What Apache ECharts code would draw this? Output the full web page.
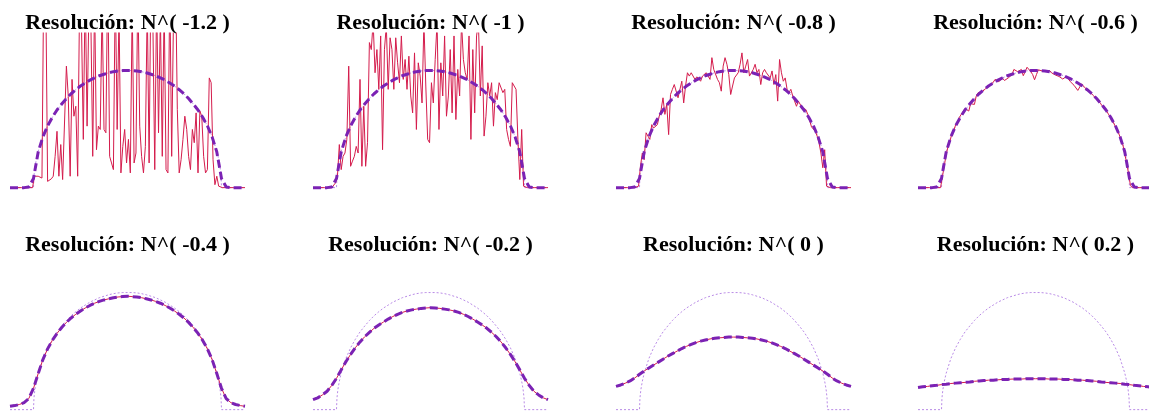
<!DOCTYPE html>
<html>
<head>
<meta charset="utf-8">
<script src="https://cdn.jsdelivr.net/npm/echarts@6/dist/echarts.min.js"></script>
<style>
    html, body { margin: 0; padding: 0; background: #fff; }
    #graf { width: 1149px; height: 411px; }
</style>
</head>
<body>
<div id="graf"></div>
<script>
// exponente de la resolucion de cada panel
var exponentes = ['-1.2', '-1', '-0.8', '-0.6', '-0.4', '-0.2', '0', '0.2'];

// rejillas de x: estimaciones ruidosas (paso 0.04) y curvas suaves (paso 0.1)
var xRuido = [];
for (var i = 0; i <= 125; i++) xRuido.push(+(-2.5 + i * 0.04).toFixed(2));
var xSuave = [];
for (var j = 0; j <= 50; j++) xSuave.push(+(-2.5 + j * 0.1).toFixed(1));

// semicirculo teorico (linea punteada)
var xSemi = [-2.5, -2.0, -1.99, -1.97, -1.94, -1.9, -1.8, -1.7, -1.6, -1.5, -1.4, -1.3, -1.2, -1.1, -1.0,
    -0.9, -0.8, -0.7, -0.6, -0.5, -0.4, -0.3, -0.2, -0.1, 0, 0.1, 0.2, 0.3, 0.4, 0.5, 0.6, 0.7, 0.8, 0.9,
    1.0, 1.1, 1.2, 1.3, 1.4, 1.5, 1.6, 1.7, 1.8, 1.9, 1.94, 1.97, 1.99, 2.0, 2.5];
var ySemi = [0, 0, 0.032, 0.055, 0.077, 0.099, 0.139, 0.168, 0.191, 0.211, 0.227, 0.242, 0.255, 0.266, 0.276,
    0.284, 0.292, 0.298, 0.304, 0.308, 0.312, 0.315, 0.317, 0.318, 0.318, 0.318, 0.317, 0.315, 0.312, 0.308,
    0.304, 0.298, 0.292, 0.284, 0.276, 0.266, 0.255, 0.242, 0.227, 0.211, 0.191, 0.168, 0.139, 0.099, 0.077,
    0.055, 0.032, 0, 0];

// estimaciones con ruido (fila de arriba)
var ruido12 = [0, 0, 0, 0, 0, 0, 0, 0, 0, 0, 0, 0, 0,
    0.031, 0.035, 0.031, 0.031, 0.026, 0.6, 0.55, 0.017, 0.02, 0.024,
    0.031, 0.085, 0.153, 0.031, 0.117, 0.022, 0.017, 0.33, 0.248, 0.031,
    0.294, 0.194, 0.221, 0.031, 0.5, 0.45, 0.131, 0.55, 0.167, 0.5,
    0.46, 0.085, 0.52, 0.103, 0.167, 0.158, 0.5, 0.158, 0.149, 0.6,
    0.085, 0.067, 0.049, 0.55, 0.158, 0.48, 0.04, 0.112, 0.158, 0.067,
    0.131, 0.04, 0.5, 0.067, 0.094, 0.55, 0.167, 0.085, 0.04, 0.112,
    0.5, 0.067, 0.6, 0.45, 0.049, 0.52, 0.149, 0.47, 0.085, 0.5,
    0.049, 0.04, 0.55, 0.085, 0.48, 0.6, 0.212, 0.04, 0.076, 0.131,
    0.194, 0.158, 0.085, 0.049, 0.158, 0.122, 0.203, 0.04, 0.208, 0.194,
    0.085, 0.04, 0.049, 0.298, 0.285, 0.076, 0.008, 0.031, 0.004, 0.001,
    0, 0, 0, 0, 0, 0, 0, 0, 0, 0, 0, 0, 0];
var ruido10 = [0, 0, 0, 0, 0, 0, 0, 0, 0, 0, 0, 0, 0.013,
    0.031, 0.117, 0.049, 0.085, 0.094, 0.131, 0.33, 0.058, 0.072, 0.085,
    0.112, 0.094, 0.294, 0.058, 0.221, 0.058, 0.122, 0.394, 0.375, 0.45,
    0.312, 0.375, 0.267, 0.412, 0.103, 0.375, 0.44, 0.267, 0.407, 0.375,
    0.267, 0.407, 0.339, 0.285, 0.412, 0.294, 0.348, 0.267, 0.357, 0.249,
    0.203, 0.366, 0.158, 0.339, 0.303, 0.23, 0.45, 0.276, 0.131, 0.122,
    0.285, 0.23, 0.348, 0.45, 0.158, 0.339, 0.249, 0.412, 0.194, 0.249,
    0.375, 0.203, 0.412, 0.185, 0.321, 0.249, 0.45, 0.348, 0.312, 0.294,
    0.412, 0.131, 0.375, 0.203, 0.412, 0.45, 0.249, 0.385, 0.14, 0.194,
    0.285, 0.249, 0.285, 0.167, 0.258, 0.239, 0.285, 0.289, 0.258, 0.267,
    0.158, 0.131, 0.112, 0.285, 0.276, 0.267, 0.131, 0.022, 0.158, 0.004,
    0, 0, 0, 0, 0, 0, 0, 0, 0, 0, 0, 0, 0];
var ruido08 = [0, 0, 0, 0, 0, 0, 0, 0, 0, 0, 0, 0, 0.004,
    0.058, 0.094, 0.076, 0.149, 0.14, 0.131, 0.171, 0.162, 0.162, 0.171,
    0.194, 0.212, 0.244, 0.199, 0.226, 0.144, 0.253, 0.267, 0.28, 0.285,
    0.244, 0.239, 0.289, 0.23, 0.276, 0.312, 0.303, 0.312, 0.317, 0.294,
    0.301, 0.298, 0.289, 0.303, 0.307, 0.312, 0.317, 0.294, 0.353, 0.321,
    0.317, 0.294, 0.285, 0.262, 0.33, 0.353, 0.335, 0.307, 0.253, 0.276,
    0.298, 0.298, 0.312, 0.335, 0.366, 0.312, 0.33, 0.348, 0.303, 0.298,
    0.321, 0.335, 0.312, 0.321, 0.28, 0.312, 0.321, 0.312, 0.317, 0.298,
    0.317, 0.28, 0.307, 0.235, 0.348, 0.312, 0.289, 0.298, 0.267, 0.258,
    0.267, 0.249, 0.253, 0.221, 0.235, 0.23, 0.217, 0.212, 0.212, 0.199,
    0.194, 0.165, 0.165, 0.153, 0.14, 0.122, 0.094, 0.054, 0.103, 0.004,
    0, 0, 0, 0, 0, 0, 0, 0, 0, 0, 0, 0, 0];
var ruido06 = [0, 0, 0, 0, 0, 0, 0, 0, 0, 0, 0, 0, 0, 0,
    0.06, 0.09, 0.112, 0.126, 0.146, 0.155, 0.17, 0.176, 0.191, 0.199,
    0.203, 0.215, 0.215, 0.208, 0.228, 0.226, 0.226, 0.249, 0.258, 0.253,
    0.26, 0.26, 0.269, 0.273, 0.278, 0.282, 0.286, 0.294, 0.296, 0.288,
    0.285, 0.297, 0.291, 0.289, 0.298, 0.303, 0.307, 0.321, 0.323, 0.315,
    0.315, 0.321, 0.304, 0.315, 0.327, 0.324, 0.315, 0.307, 0.293, 0.307,
    0.32, 0.32, 0.317, 0.315, 0.318, 0.321, 0.318, 0.312, 0.312, 0.306,
    0.307, 0.302, 0.297, 0.295, 0.298, 0.302, 0.297, 0.288, 0.285, 0.278,
    0.275, 0.264, 0.26, 0.282, 0.276, 0.272, 0.265, 0.26, 0.257, 0.251,
    0.246, 0.241, 0.236, 0.229, 0.222, 0.216, 0.209, 0.202, 0.194, 0.186,
    0.176, 0.166, 0.156, 0.144, 0.131, 0.116, 0.09, 0.068, 0.038, 0.006,
    0, 0, 0, 0, 0, 0, 0, 0, 0, 0, 0, 0];

// curva ajustada de la fila de arriba (discontinua)
var ajusteSup = [0, 0, 0, 0, 0.002, 0.025, 0.097, 0.138, 0.168, 0.191, 0.211, 0.227, 0.242,
    0.255, 0.266, 0.276, 0.284, 0.292, 0.298, 0.304, 0.308, 0.312, 0.315, 0.317, 0.318, 0.318,
    0.318, 0.317, 0.315, 0.312, 0.308, 0.304, 0.298, 0.292, 0.284, 0.276, 0.266, 0.255, 0.242,
    0.227, 0.211, 0.191, 0.168, 0.138, 0.097, 0.025, 0.002, 0, 0, 0, 0];

// estimaciones suaves (fila de abajo)
var suave04 = [0.009, 0.011, 0.014, 0.019, 0.03, 0.058, 0.098, 0.136, 0.165, 0.188, 0.207, 0.223, 0.237,
    0.249, 0.259, 0.268, 0.276, 0.283, 0.289, 0.294, 0.298, 0.301, 0.304, 0.306, 0.307, 0.308,
    0.307, 0.306, 0.304, 0.301, 0.298, 0.294, 0.289, 0.283, 0.276, 0.268, 0.259, 0.249, 0.237,
    0.223, 0.207, 0.188, 0.165, 0.136, 0.098, 0.058, 0.03, 0.019, 0.014, 0.011, 0.009];
var suave02 = [0.027, 0.032, 0.04, 0.05, 0.066, 0.085, 0.108, 0.13, 0.15, 0.168, 0.184, 0.198, 0.21,
    0.221, 0.23, 0.238, 0.246, 0.253, 0.259, 0.264, 0.268, 0.271, 0.273, 0.275, 0.276, 0.277,
    0.276, 0.275, 0.273, 0.271, 0.268, 0.264, 0.259, 0.253, 0.246, 0.238, 0.23, 0.221, 0.21,
    0.198, 0.184, 0.168, 0.15, 0.13, 0.108, 0.085, 0.066, 0.05, 0.04, 0.032, 0.027];
var suave0 = [0.063, 0.067, 0.072, 0.078, 0.086, 0.096, 0.105, 0.113, 0.121, 0.129, 0.137, 0.145, 0.152,
    0.159, 0.166, 0.172, 0.177, 0.182, 0.186, 0.189, 0.192, 0.194, 0.195, 0.196, 0.197, 0.197,
    0.197, 0.196, 0.195, 0.194, 0.192, 0.189, 0.186, 0.182, 0.177, 0.172, 0.166, 0.159, 0.152,
    0.145, 0.137, 0.129, 0.121, 0.113, 0.105, 0.096, 0.086, 0.078, 0.072, 0.067, 0.063];
var suaveP2 = [0.06, 0.062, 0.063, 0.065, 0.066, 0.068, 0.069, 0.071, 0.072, 0.073, 0.074, 0.075, 0.077,
    0.078, 0.079, 0.08, 0.08, 0.081, 0.082, 0.082, 0.083, 0.083, 0.083, 0.084, 0.084, 0.084,
    0.084, 0.084, 0.083, 0.083, 0.083, 0.082, 0.082, 0.081, 0.08, 0.08, 0.079, 0.078, 0.077,
    0.075, 0.074, 0.073, 0.072, 0.071, 0.069, 0.068, 0.066, 0.065, 0.063, 0.062, 0.06];

var ruidos = [ruido12, ruido10, ruido08, ruido06];
var suaves = [suave04, suave02, suave0, suaveP2];

function pares(xs, ys) {
    return xs.map(function (x, k) { return [x, ys[k]]; });
}

function render_paneles(divId) {
    var dom = document.getElementById(divId);
    var myChart = echarts.init(dom);

    var izq = [10, 313, 616, 918];
    var arriba = [33, 255];
    var centroTitulo = [23, 245];
    var ancho = 235, alto = 162;

    var grids = [], xAxes = [], yAxes = [], titles = [], series = [];

    exponentes.forEach(function (e, k) {
        var col = k % 4, fila = Math.floor(k / 4);
        // sin ajuste al borde del lienzo: el ultimo panel y la fila de abajo se salen un poco
        grids.push({ left: izq[col], top: arriba[fila], width: ancho, height: alto, outerBoundsMode: 'none' });
        xAxes.push({ gridIndex: k, type: 'value', min: -2.5, max: 2.5, show: false });
        yAxes.push({ gridIndex: k, type: 'value', min: -0.02, max: 0.42, show: false });
        titles.push({
            text: 'Resolución: N^( ' + e + ' )',
            left: izq[col] + ancho / 2 - 5,
            top: centroTitulo[fila] - 5,
            textAlign: 'center',
            textVerticalAlign: 'middle',
            textStyle: {
                fontFamily: 'Liberation Serif',
                fontWeight: 'bold',
                fontSize: 22,
                color: '#000'
            }
        });

        // semicirculo teorico
        series.push({
            type: 'line', xAxisIndex: k, yAxisIndex: k,
            data: pares(xSemi, ySemi),
            showSymbol: false,
            lineStyle: { color: '#b98be6', width: 1, type: [2, 2] }
        });

        var estimacion, ajuste, xEst;
        if (fila === 0) {
            estimacion = ruidos[col];
            xEst = xRuido;
            ajuste = ajusteSup;
        } else {
            estimacion = suaves[col];
            xEst = xSuave;
            ajuste = suaves[col];
        }

        // estimacion (roja)
        series.push({
            type: 'line', xAxisIndex: k, yAxisIndex: k,
            data: pares(xEst, estimacion),
            showSymbol: false,
            lineStyle: { color: '#d41c4c', width: 1 }
        });

        // curva ajustada (discontinua morada)
        series.push({
            type: 'line', xAxisIndex: k, yAxisIndex: k,
            data: pares(xSuave, ajuste),
            showSymbol: false,
            lineStyle: { color: '#7b22b4', width: 3, type: [8, 4], cap: 'butt' }
        });
    });

    var option = {
        backgroundColor: '#fff',
        animation: false,
        title: titles,
        grid: grids,
        xAxis: xAxes,
        yAxis: yAxes,
        series: series
    };
    myChart.setOption(option);
}

render_paneles('graf');
</script>
</body>
</html>
